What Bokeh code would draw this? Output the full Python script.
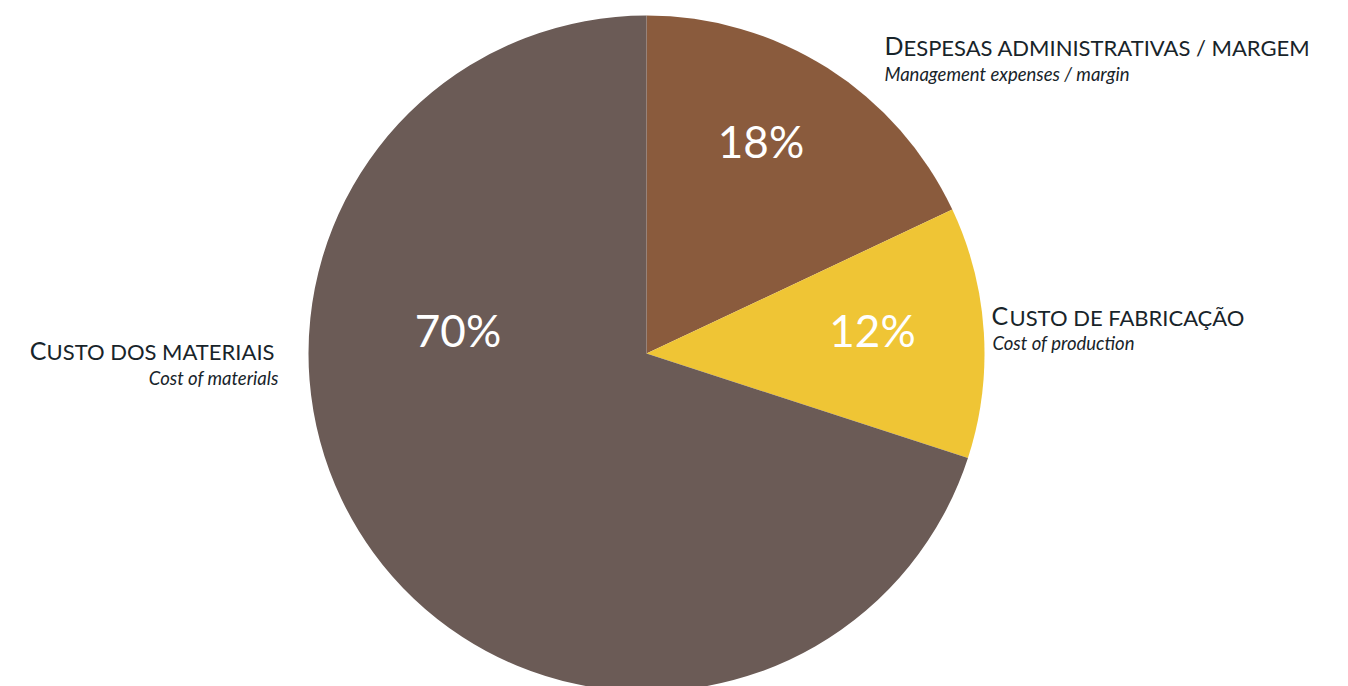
import math
from bokeh.plotting import figure
from bokeh.models import Range1d, ColumnDataSource
from bokeh.core.properties import value
from bokeh.embed import file_html
from bokeh.resources import INLINE

categories = ["Despesas administrativas / margem", "Custo de fabricação", "Custo dos materiais"]
subtitles = ["Management expenses / margin", "Cost of production", "Cost of materials"]
values = [18, 12, 70]
colors = ["#8a5b3d", "#efc535", "#6b5b56"]

W, H = 1348, 686
p = figure(width=W, height=H, output_backend="svg", toolbar_location=None,
           x_range=Range1d(0, W), y_range=Range1d(-H, 0),
           min_border=0)
p.axis.visible = False
p.grid.visible = False
p.outline_line_color = None
p.background_fill_color = "white"
p.border_fill_color = "white"

cx, cy, r = 646, -353, 338
total = sum(values)
starts, ends = [], []
cum = 0
for v in values:
    a0 = math.pi / 2 - 2 * math.pi * (cum + v) / total
    a1 = math.pi / 2 - 2 * math.pi * cum / total
    starts.append(a0)
    ends.append(a1)
    cum += v
src = ColumnDataSource(dict(x=[cx] * 3, y=[cy] * 3, s=starts, e=ends, c=colors))
p.wedge(x="x", y="y", radius=r, start_angle="s", end_angle="e", fill_color="c",
        line_color=None, source=src)

FONT = "Lato"
# percentage labels
pct_pos = [(760.5, -140.5), (872, -329.5), (457.5, -329.5)]
p.text(x=[q[0] for q in pct_pos], y=[q[1] for q in pct_pos],
       text=[f"{v}%" for v in values], text_color="white",
       text_font=value(FONT), text_font_size="44px",
       text_align="center", text_baseline="middle")

# category labels (small caps emulation)
tc = "#18242a"
# (big letter x, align, big y, small x, align, small y)
lab_pos = [(884, "left", -44.7, 903, "left", -46.7),
           (991, "left", -314.3, 1009, "left", -316.5),
           (46, "right", -349.3, 274, "right", -351.4)]
sub_pos = [(884, -73.2, "left"), (992, -342.7, "left"), (278, -377.7, "right")]
for cat, sub, (bx, ba, by, sx0, sa0, sy0), (sx, sy, sa) in zip(categories, subtitles, lab_pos, sub_pos):
    p.text(x=[bx], y=[by], text=[cat[0].upper()], text_color=tc,
           text_font=value(FONT), text_font_size="25px",
           text_align=ba, text_baseline="middle")
    p.text(x=[sx0], y=[sy0], text=[cat[1:].upper()], text_color=tc,
           text_font=value(FONT), text_font_size="22px",
           text_align=sa0, text_baseline="middle")
    p.text(x=[sx], y=[sy], text=[sub], text_color=tc,
           text_font=value(FONT), text_font_size="18.5px",
           text_font_style="italic", text_align=sa, text_baseline="middle")

open("out.html", "w").write(file_html(p, INLINE))
